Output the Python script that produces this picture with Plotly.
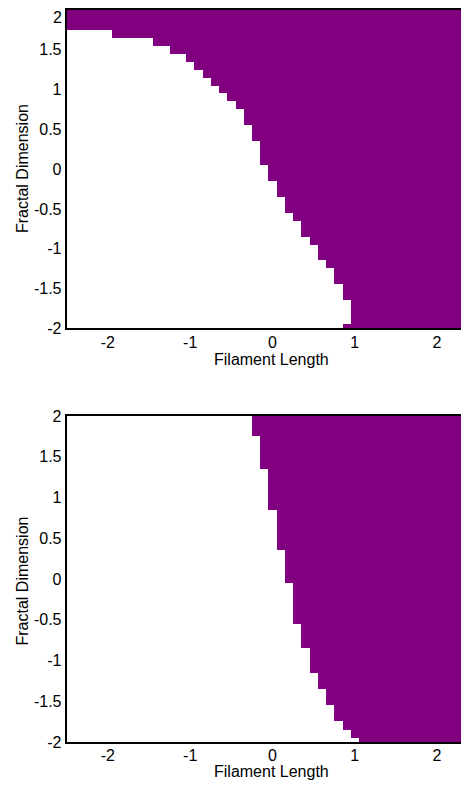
import plotly.graph_objects as go

# Grid of the decision map (cell centres)
x_grid = [-2.5, -2.4, -2.3, -2.2, -2.1, -2.0, -1.9, -1.8, -1.7, -1.6, -1.5,
          -1.4, -1.3, -1.2, -1.1, -1.0, -0.9, -0.8, -0.7, -0.6, -0.5,
          -0.4, -0.3, -0.2, -0.1, 0.0, 0.1, 0.2, 0.3, 0.4, 0.5,
          0.6, 0.7, 0.8, 0.9, 1.0, 1.1, 1.2, 1.3, 1.4, 1.5,
          1.6, 1.7, 1.8, 1.9, 2.0, 2.1, 2.2, 2.3, 2.4, 2.5]
y_grid = [2.0, 1.9, 1.8, 1.7, 1.6, 1.5, 1.4, 1.3, 1.2, 1.1, 1.0,
          0.9, 0.8, 0.7, 0.6, 0.5, 0.4, 0.3, 0.2, 0.1, 0.0,
          -0.1, -0.2, -0.3, -0.4, -0.5, -0.6, -0.7, -0.8, -0.9, -1.0,
          -1.1, -1.2, -1.3, -1.4, -1.5, -1.6, -1.7, -1.8, -1.9, -2.0]

# First purple Filament Length in each row (one value per y_grid row)
top_boundary = [-2.5, -2.5, -2.5, -1.9, -1.4, -1.2, -1.0, -0.9, -0.8, -0.7, -0.6,
                -0.5, -0.4, -0.3, -0.3, -0.2, -0.2, -0.1, -0.1, -0.1, 0.0,
                0.0, 0.1, 0.1, 0.2, 0.2, 0.3, 0.4, 0.4, 0.5, 0.6,
                0.6, 0.7, 0.8, 0.8, 0.9, 0.9, 1.0, 1.0, 1.0, 0.9]
bottom_boundary = [-0.2, -0.2, -0.2, -0.1, -0.1, -0.1, -0.1, 0.0, 0.0, 0.0, 0.0,
                   0.0, 0.1, 0.1, 0.1, 0.1, 0.1, 0.2, 0.2, 0.2, 0.2,
                   0.3, 0.3, 0.3, 0.3, 0.3, 0.4, 0.4, 0.4, 0.5, 0.5,
                   0.5, 0.6, 0.6, 0.7, 0.7, 0.8, 0.8, 0.9, 1.0, 1.1]

x_tickvals = [-2, -1, 0, 1, 2]
x_ticktext = ["-2", "-1", "0", "1", "2"]
y_tickvals = [-2, -1.5, -1, -0.5, 0, 0.5, 1, 1.5, 2]
y_ticktext = ["-2", "-1.5", "-1", "-0.5", "0", "0.5", "1", "1.5", "2"]

X_TITLE = "Filament Length"
Y_TITLE = "Fractal Dimension"


def build_z(boundary):
    return [[1 if xv >= b - 1e-9 else 0 for xv in x_grid] for b in boundary]


PURPLE = "#800080"
scale = [[0, "#ffffff"], [1, PURPLE]]
FONT = "Liberation Sans, Arial, sans-serif"

fig = go.Figure()
fig.add_trace(go.Heatmap(x=x_grid, y=y_grid, z=build_z(top_boundary),
                         colorscale=scale, zmin=0, zmax=1, showscale=False,
                         zsmooth=False, xaxis="x", yaxis="y", hoverinfo="skip"))
fig.add_trace(go.Heatmap(x=x_grid, y=y_grid, z=build_z(bottom_boundary),
                         colorscale=scale, zmin=0, zmax=1, showscale=False,
                         zsmooth=False, xaxis="x2", yaxis="y2", hoverinfo="skip"))

W, H = 461, 777
xdom = [58.7 / W, 1.0]
top_dom = [1 - 320.3 / H, 1 - 2.0 / H]
bot_dom = [1 - 734.0 / H, 1 - 408.0 / H]

xcommon = dict(range=[-2.5, 2.388], tickvals=x_tickvals, ticktext=x_ticktext,
               showgrid=False, zeroline=False, showline=True, mirror=True,
               linecolor="black", linewidth=2, ticks="", ticklabelstandoff=-2,
               tickfont=dict(family=FONT, size=16, color="black"),
               domain=xdom, automargin=False)
ycommon = dict(range=[-2, 2], tickvals=y_tickvals,
               showgrid=False, zeroline=False, showline=True, mirror=False,
               linecolor="black", linewidth=2, ticks="",
               tickfont=dict(family=FONT, size=16, color="black"),
               automargin=False)

# the topmost label of the upper panel sits at the page edge; it is drawn
# just inside the page as a text label instead of an axis tick label
top_y_ticktext = y_ticktext[:-1] + [""]

fig.update_layout(
    width=W, height=H,
    margin=dict(l=0, r=0, t=0, b=0),
    paper_bgcolor="white", plot_bgcolor="white",
    showlegend=False,
    xaxis=dict(xcommon, anchor="y"),
    yaxis=dict(ycommon, ticktext=top_y_ticktext, domain=top_dom, anchor="x"),
    xaxis2=dict(xcommon, anchor="y2"),
    yaxis2=dict(ycommon, ticktext=y_ticktext, domain=bot_dom, anchor="x2"),
)

tick_font = dict(family=FONT, size=16, color="black")
fig.add_annotation(text=y_ticktext[-1], xref="paper", yref="paper",
                   x=55.0 / W, y=1 - 9.6 / H, showarrow=False, font=tick_font,
                   xanchor="right", yanchor="middle", borderpad=0)

# axis titles as text placed in paper coordinates
title_font = dict(family=FONT, size=16, color="black")
x_title_px = 263.5  # centre of x=0 in figure pixels
for ytop in (351.5, 763.7):
    fig.add_annotation(text=X_TITLE, xref="paper", yref="paper",
                       x=x_title_px / W, y=1 - ytop / H, showarrow=False,
                       font=title_font, xanchor="center", yanchor="middle")
for yc in (160.3, 572.8):
    fig.add_annotation(text=Y_TITLE, xref="paper", yref="paper",
                       x=14.7 / W, y=1 - yc / H, showarrow=False, textangle=-90,
                       font=title_font, xanchor="center", yanchor="middle")

fig.write_html("out.html")
